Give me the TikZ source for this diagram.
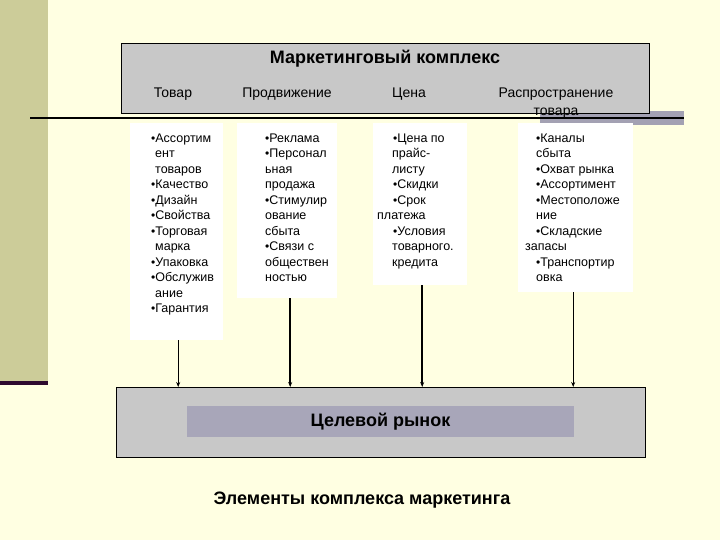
\documentclass[tikz,border=0pt]{standalone}
\usepackage{fontspec}
\setmainfont{Liberation Sans}
\usetikzlibrary{arrows.meta}
\definecolor{bgyellow}{HTML}{FFFFE2}
\definecolor{olive}{HTML}{CCCC99}
\definecolor{darkpurple}{HTML}{2E0A2E}
\definecolor{boxgray}{HTML}{C8C8C8}
\definecolor{innerpurple}{HTML}{A8A6B9}
\definecolor{shadowbar}{HTML}{A3A1B3}
\newcommand\mybul{{\fontsize{12}{12}\selectfont•}}
\tikzset{
  whitebox/.style={fill=white, draw=none},
  graybox/.style={fill=boxgray, draw=black, line width=1.2pt},
  coltext/.style={anchor=north west, align=left, inner sep=0pt,
    font=\fontsize{12.5}{15.5}\selectfont},
  heading/.style={font=\fontsize{14}{16}\selectfont, text height=10pt, text depth=3pt},
  thinarr/.style={-{Stealth[length=5pt,width=4pt]}, line width=0.8pt},
  thickarr/.style={-{Stealth[length=5pt,width=4pt]}, line width=1.6pt},
}
\begin{document}
\begin{tikzpicture}[x=1pt,y=-1pt]
\useasboundingbox (0,0) rectangle (720,540);
\fill[bgyellow] (0,0) rectangle (720,540);
% left stripe
\fill[olive] (0,0) rectangle (48,381);
\fill[darkpurple] (0,381) rectangle (48,385);
% shadow bar
\fill[shadowbar] (540,111) rectangle (684,125);
% top box
\node[graybox, minimum width=528pt, minimum height=70pt, anchor=north west, inner sep=0pt] (top) at (121,43) {};
\node[font=\bfseries\fontsize{18}{20}\selectfont] (title) at (385,59) {Маркетинговый комплекс};
\node[heading, anchor=base] (h1) at (173,98) {Товар};
\node[heading, anchor=base] (h2) at (287,98) {Продвижение};
\node[heading, anchor=base] (h3) at (409,98) {Цена};
\node[align=center, font=\fontsize{14}{18.5}\selectfont] (h4) at (556,103) {Распространение\\товара};
\draw[line width=2pt] (30,118) -- (684,118);
% white boxes
\node[whitebox, anchor=north west, minimum width=93pt, minimum height=217pt, inner sep=0pt] (w1) at (130,123) {};
\node[whitebox, anchor=north west, minimum width=100pt, minimum height=175pt, inner sep=0pt] (w2) at (237,123) {};
\node[whitebox, anchor=north west, minimum width=94pt, minimum height=162pt, inner sep=0pt] (w3) at (373,123) {};
\node[whitebox, anchor=north west, minimum width=115pt, minimum height=169pt, inner sep=0pt] (w4) at (518,123) {};
% column texts
\node[coltext] (t1) at (151,133.5) {\mybul Ассортим\\\hspace*{4pt}ент\\\hspace*{4pt}товаров\\\mybul Качество\\\mybul Дизайн\\\mybul Свойства\\\mybul Торговая\\\hspace*{4pt}марка\\\mybul Упаковка\\\mybul Обслужив\\\hspace*{4pt}ание\\\mybul Гарантия};
\node[coltext] (t2) at (265,133.5) {\mybul Реклама\\\mybul Персонал\\ьная\\продажа\\\mybul Стимулир\\ование\\сбыта\\\mybul Связи с\\обществен\\ностью};
\node[coltext] (t3) at (377,133.5) {\hspace*{16pt}\mybul Цена по\\\hspace*{15pt}прайс-\\\hspace*{15pt}листу\\\hspace*{16pt}\mybul Скидки\\\hspace*{16pt}\mybul Срок\\платежа\\\hspace*{16pt}\mybul Условия\\\hspace*{15pt}товарного.\\\hspace*{15pt}кредита};
\node[coltext] (t4) at (525,133.5) {\hspace*{11pt}\mybul Каналы\\\hspace*{11pt}сбыта\\\hspace*{11pt}\mybul Охват рынка\\\hspace*{11pt}\mybul Ассортимент\\\hspace*{11pt}\mybul Местоположе\\\hspace*{11pt}ние\\\hspace*{11pt}\mybul Складские\\запасы\\\hspace*{11pt}\mybul Транспортир\\\hspace*{11pt}овка};
% bottom box
\node[graybox, anchor=north west, minimum width=529pt, minimum height=70pt, inner sep=0pt] (bot) at (116,387) {};
\node[fill=innerpurple, draw=none, minimum width=387pt, minimum height=31pt, inner sep=0pt, font=\bfseries\fontsize{18}{20}\selectfont] (target) at (380.5,421.5) {Целевой рынок};
% arrows
\draw[thinarr] (w1.south) ++(1.5,0) coordinate (a1) -- (a1 |- bot.north);
\draw[thickarr] (w2.south) ++(3,0) coordinate (a2) -- (a2 |- bot.north);
\draw[thickarr] (w3.south) ++(2,0) coordinate (a3) -- (a3 |- bot.north);
\draw[thinarr] (w4.south) ++(-2.5,0) coordinate (a4) -- (a4 |- bot.north);
% caption
\node[font=\bfseries\fontsize{18}{20}\selectfont] (caption) at (362,500) {Элементы комплекса маркетинга};
\end{tikzpicture}
\end{document}
